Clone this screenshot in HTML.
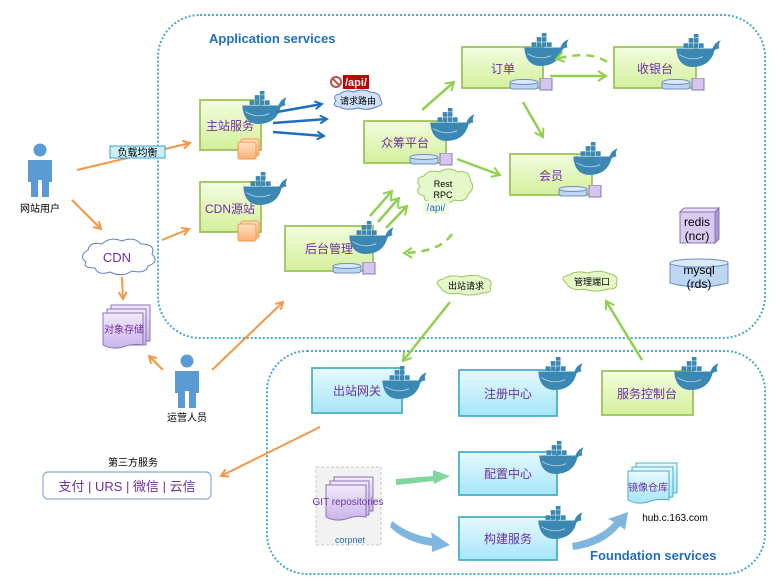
<!DOCTYPE html>
<html><head><meta charset="utf-8"><style>
html,body{margin:0;padding:0;background:#fff;}
svg{display:block;font-family:"Liberation Sans","Noto Sans CJK SC",sans-serif;}
</style></head><body>
<svg width="777" height="579" viewBox="0 0 777 579" xmlns="http://www.w3.org/2000/svg">
<defs>
<linearGradient id="gg" x1="0" y1="0" x2="0" y2="1"><stop offset="0" stop-color="#f3fcdf"/><stop offset="1" stop-color="#d3f09c"/></linearGradient>
<linearGradient id="bg" x1="0" y1="0" x2="0" y2="1"><stop offset="0" stop-color="#e6f9fe"/><stop offset="1" stop-color="#a6e6f8"/></linearGradient>
<linearGradient id="pg" x1="0" y1="0" x2="0" y2="1"><stop offset="0" stop-color="#f2eafa"/><stop offset="1" stop-color="#c9b4ea"/></linearGradient>
<linearGradient id="og" x1="0" y1="0" x2="0" y2="1"><stop offset="0" stop-color="#ffe2c4"/><stop offset="1" stop-color="#fbb176"/></linearGradient>
<symbol id="whale" viewBox="0 0 44 32" width="46" height="33">
<path d="M0,14 H35 Q37,8 43,6 Q40,11 42,14 Q39,14 37,16 Q33,32 15,32 Q1,31 0,14 Z" fill="#3a88b3"/>
<g fill="#3a88b3"><rect x="7" y="9" width="4.5" height="4.5"/><rect x="12" y="9" width="4.5" height="4.5"/><rect x="17" y="9" width="4.5" height="4.5"/><rect x="22" y="9" width="4.5" height="4.5"/><rect x="12" y="4" width="4.5" height="4.5"/><rect x="17" y="4" width="4.5" height="4.5"/><rect x="17" y="-1" width="4.5" height="4.5"/></g>
<path d="M3,20 Q14,27 26,22" fill="none" stroke="#fff" stroke-width="0.8" opacity="0.6"/>
</symbol>
<symbol id="dbico" viewBox="0 0 44 14" width="44" height="14">
<rect x="1" y="3" width="28" height="8" rx="3" fill="#bcd6f4" stroke="#6d8fbf" stroke-width="1"/>
<ellipse cx="15" cy="4" rx="14" ry="2.5" fill="#dbe9fb" stroke="#6d8fbf" stroke-width="1"/>
<rect x="31" y="0" width="12" height="12" fill="#d5c6ee" stroke="#8a75b5" stroke-width="1"/>
</symbol>
<marker id="ao" markerWidth="10" markerHeight="10" refX="8" refY="5" orient="auto" markerUnits="userSpaceOnUse"><path d="M1,1 L8,5 L1,9" fill="none" stroke="#f79646" stroke-width="2"/></marker>
<marker id="ab" markerWidth="10" markerHeight="10" refX="8" refY="5" orient="auto" markerUnits="userSpaceOnUse"><path d="M1,1 L8,5 L1,9" fill="none" stroke="#1f6fbf" stroke-width="2"/></marker>
<marker id="ag" markerWidth="12" markerHeight="12" refX="9" refY="6" orient="auto" markerUnits="userSpaceOnUse"><path d="M1,1 L9,6 L1,11" fill="none" stroke="#8fd14f" stroke-width="2"/></marker>
</defs>

<rect x="158" y="15" width="607" height="323" rx="42" fill="none" stroke="#4aa8c8" stroke-width="2" stroke-dasharray="2,2"/>
<rect x="267" y="351" width="498" height="223" rx="40" fill="none" stroke="#4aa8c8" stroke-width="2" stroke-dasharray="2,2"/>
<text x="209" y="43" font-size="13" font-weight="bold" fill="#1f6fbf">Application services</text>
<text x="590" y="560" font-size="13" font-weight="bold" fill="#1f6fbf">Foundation services</text>

<g stroke="#9bc45a" stroke-width="1.8" fill="url(#gg)">
<rect x="200" y="100" width="61" height="50"/>
<rect x="200" y="182" width="61" height="50"/>
<rect x="285" y="226" width="88" height="45"/>
<rect x="364" y="121" width="82" height="42"/>
<rect x="462" y="47" width="81" height="41"/>
<rect x="614" y="47" width="82" height="41"/>
<rect x="510" y="154" width="82" height="41"/>
<rect x="602" y="371" width="91" height="44"/>
</g>
<g stroke="#4aaecb" stroke-width="1.8" fill="url(#bg)">
<rect x="312" y="368" width="90" height="45"/>
<rect x="459" y="370" width="98" height="46"/>
<rect x="459" y="452" width="98" height="43"/>
<rect x="459" y="517" width="98" height="43"/>
</g>
<g font-size="12" fill="#7030a0" text-anchor="middle">
<text x="230" y="130">主站服务</text>
<text x="230" y="213">CDN源站</text>
<text x="329" y="253">后台管理</text>
<text x="405" y="147">众筹平台</text>
<text x="503" y="73">订单</text>
<text x="655" y="73">收银台</text>
<text x="551" y="180">会员</text>
<text x="647" y="398">服务控制台</text>
<text x="357" y="395">出站网关</text>
<text x="508" y="398">注册中心</text>
<text x="508" y="478">配置中心</text>
<text x="508" y="543">构建服务</text>
</g>
<g stroke="#f79646" stroke-width="1" fill="url(#og)">
<rect x="241" y="139" width="18" height="17" rx="2"/><rect x="238" y="142" width="18" height="17" rx="2"/>
<rect x="241" y="221" width="18" height="17" rx="2"/><rect x="238" y="224" width="18" height="17" rx="2"/>
</g>
<use href="#dbico" x="332" y="262"/>
<use href="#dbico" x="409" y="153"/>
<use href="#dbico" x="509" y="78"/>
<use href="#dbico" x="661" y="78"/>
<use href="#dbico" x="558" y="185"/>
<use href="#whale" x="242" y="91"/>
<use href="#whale" x="243" y="172"/>
<use href="#whale" x="349" y="221"/>
<use href="#whale" x="430" y="108"/>
<use href="#whale" x="524" y="33"/>
<use href="#whale" x="676" y="34"/>
<use href="#whale" x="573" y="142"/>
<use href="#whale" x="382" y="366"/>
<use href="#whale" x="538" y="357"/>
<use href="#whale" x="674" y="357"/>
<use href="#whale" x="539" y="441"/>
<use href="#whale" x="538" y="506"/>

<g fill="#5b9bd5">
<circle cx="40" cy="150" r="6.5"/><path d="M28,160 H52 V182 H49 V197 H42 V180 H38 V197 H31 V182 H28 Z"/>
<circle cx="187" cy="361" r="6.5"/><path d="M175,371 H199 V393 H196 V408 H189 V391 H185 V408 H178 V393 H175 Z"/>
</g>
<text x="40" y="212" font-size="10" text-anchor="middle" fill="#000">网站用户</text>
<text x="187" y="421" font-size="10" text-anchor="middle" fill="#000">运营人员</text>

<g stroke="#f79646" stroke-width="2" fill="none" marker-end="url(#ao)">
<line x1="77" y1="170" x2="190" y2="143"/>
<line x1="72" y1="200" x2="101" y2="229"/>
<line x1="162" y1="240" x2="189" y2="229"/>
<line x1="122" y1="277" x2="123" y2="299"/>
<line x1="163" y1="370" x2="149" y2="356"/>
<line x1="212" y1="370" x2="283" y2="302"/>
<line x1="320" y1="427" x2="221" y2="476"/>
</g>
<rect x="110" y="146" width="55" height="12" fill="#c9f0fb" stroke="#3da3c4" stroke-width="1"/>
<text x="137.5" y="156" font-size="10" text-anchor="middle" fill="#000">负载均衡</text>

<path d="M86,262 Q78,256 88,250 Q90,241 102,244 Q110,236 122,241 Q134,236 141,244 Q156,244 152,254 Q160,262 148,266 Q146,274 132,271 Q122,278 110,272 Q98,276 95,268 Q82,268 86,262 Z" fill="#fff" stroke="#5b7fbf" stroke-width="1"/>
<text x="117" y="262" font-size="13" text-anchor="middle" fill="#7030a0">CDN</text>
<g stroke="#8a75b5" stroke-width="1" fill="url(#pg)">
<rect x="111" y="305" width="39" height="36"/><rect x="107" y="309" width="39" height="36"/>
<path d="M103,313 H143 V345 Q133,343 123,347 Q112,350 103,345 Z"/>
</g>
<text x="124" y="333" font-size="10" text-anchor="middle" fill="#7030a0">对象存储</text>

<text x="133" y="466" font-size="10" text-anchor="middle" fill="#000">第三方服务</text>
<rect x="43" y="472" width="168" height="27" rx="5" fill="#fff" stroke="#8ea9d8" stroke-width="1.2"/>
<text x="127" y="491" font-size="13" text-anchor="middle" fill="#7030a0">支付 | URS | 微信 | 云信</text>

<g stroke="#1f6fbf" stroke-width="2.5" fill="none" marker-end="url(#ab)">
<line x1="277" y1="112" x2="322" y2="104"/>
<line x1="273" y1="123" x2="327" y2="119"/>
<line x1="273" y1="132" x2="324" y2="136"/>
</g>
<circle cx="336" cy="82" r="5" fill="#fff" stroke="#c0504d" stroke-width="2"/><line x1="332.5" y1="78.5" x2="339.5" y2="85.5" stroke="#c0504d" stroke-width="2"/>
<rect x="343" y="75" width="26" height="14" fill="#c00000"/>
<text x="356" y="86" font-size="11" font-weight="bold" text-anchor="middle" fill="#fff">/api/</text>
<path d="M336,101 Q332,95 340,94 Q345,89 354,92 Q362,88 370,92 Q381,93 380,99 Q385,105 376,107 Q368,111 358,108 Q346,111 340,107 Q331,106 336,101 Z" fill="#cfe0fb" stroke="#5b7fbf" stroke-width="1"/>
<text x="358" y="104" font-size="9" text-anchor="middle" fill="#000">请求路由</text>

<g stroke="#8fd14f" stroke-width="2.5" fill="none" marker-end="url(#ag)">
<line x1="422" y1="110" x2="454" y2="82"/>
<line x1="550" y1="76" x2="606" y2="76"/>
<line x1="523" y1="102" x2="543" y2="137"/>
<line x1="457" y1="159" x2="500" y2="175"/>
<line x1="370" y1="216" x2="392" y2="191"/>
<line x1="378" y1="222" x2="399" y2="198"/>
<line x1="386" y1="228" x2="407" y2="206"/>
<line x1="450" y1="302" x2="403" y2="361"/>
<line x1="642" y1="360" x2="606" y2="301"/>
<path d="M607,62 Q590,50 556,59" stroke-dasharray="8,6"/>
<path d="M452,234 Q440,252 404,253" stroke-dasharray="8,6"/>
</g>
<path d="M420,186 Q414,178 424,176 Q428,169 440,172 Q448,166 458,172 Q470,170 470,180 Q476,188 468,194 Q466,203 454,200 Q446,206 436,201 Q424,204 424,196 Q414,194 420,186 Z" fill="#e5f8c9" stroke="#9bc45a" stroke-width="1"/>
<text x="443" y="187" font-size="9" text-anchor="middle" fill="#000">Rest</text>
<text x="443" y="198" font-size="9" text-anchor="middle" fill="#000">RPC</text>
<rect x="423" y="201" width="26" height="13" fill="#f0fbe0"/>
<text x="436" y="211" font-size="10" text-anchor="middle" fill="#1f6fbf">/api/</text>
<path d="M440,287 Q433,281 443,279 Q450,274 462,277 Q474,273 484,278 Q494,280 490,287 Q493,293 482,293 Q470,297 458,293 Q446,296 440,287 Z" fill="#e5f8c9" stroke="#9bc45a" stroke-width="1"/>
<text x="466" y="289" font-size="9" text-anchor="middle" fill="#000">出站请求</text>
<path d="M566,283 Q559,277 569,275 Q576,270 588,273 Q600,269 610,274 Q620,276 616,283 Q619,289 608,289 Q596,293 584,289 Q572,292 566,283 Z" fill="#e5f8c9" stroke="#9bc45a" stroke-width="1"/>
<text x="592" y="285" font-size="9" text-anchor="middle" fill="#000">管理端口</text>

<path d="M680,212 L684,208 H719 L715,212 Z" fill="#e6dcf5" stroke="#8a75b5"/>
<path d="M715,212 L719,208 V239 L715,243 Z" fill="#a995cf" stroke="#8a75b5"/>
<rect x="680" y="212" width="35" height="31" fill="#d9cbf0" stroke="#8a75b5"/>
<text x="697" y="226" font-size="12" text-anchor="middle" fill="#000">redis</text>
<text x="697" y="240" font-size="12" text-anchor="middle" fill="#000">(ncr)</text>
<path d="M670,263 V283 Q699,291 728,283 V263" fill="#bcd6f4" stroke="#6d8fbf"/>
<ellipse cx="699" cy="263" rx="29" ry="4" fill="#dbe9fb" stroke="#6d8fbf"/>
<text x="699" y="274" font-size="12" text-anchor="middle" fill="#000">mysql</text>
<text x="699" y="288" font-size="12" text-anchor="middle" fill="#000">(rds)</text>

<rect x="316" y="467" width="65" height="78" fill="#f2f2f2" stroke="#c8c8c8" stroke-dasharray="3,2"/>
<g stroke="#8a75b5" stroke-width="1" fill="url(#pg)">
<rect x="334" y="477" width="39" height="34"/><rect x="330" y="481" width="39" height="34"/>
<path d="M326,485 H366 V517 Q356,515 346,519 Q335,522 326,517 Z"/>
</g>
<text x="348" y="505" font-size="10" text-anchor="middle" fill="#7030a0">GIT repositories</text>
<text x="350" y="543" font-size="9" text-anchor="middle" fill="#1f6fbf">corpnet</text>

<path d="M396,479 L433,476 L433,470 L450,476 L434,484 L434,481 L396,485 Z" fill="#7fd6a0"/>
<path d="M392,521 Q410,535 432,538 L431,532 L450,545 L432,552 L432,546 Q405,542 390,527 Z" fill="#7fb6e0"/>
<path d="M572,543 Q600,538 614,522 L608,519 L628,512 L625,530 L620,526 Q604,546 573,550 Z" fill="#7fb6e0"/>

<g stroke="#4aaecb" stroke-width="1" fill="url(#bg)">
<rect x="636" y="463" width="41" height="30"/><rect x="632" y="467" width="41" height="30"/>
<path d="M628,471 H669 V500 Q658,498 648,502 Q637,505 628,500 Z"/>
</g>
<text x="648" y="491" font-size="10" text-anchor="middle" fill="#7030a0">镜像仓库</text>
<text x="675" y="521" font-size="10" text-anchor="middle" fill="#000">hub.c.163.com</text>
</svg>
</body></html>
